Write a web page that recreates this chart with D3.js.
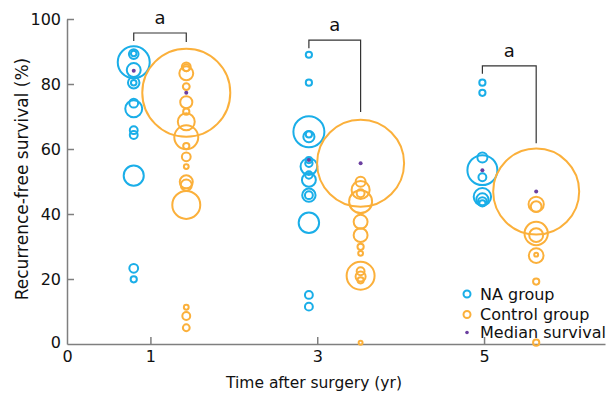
<!DOCTYPE html>
<html>
<head>
<meta charset="utf-8">
<script src="https://cdn.jsdelivr.net/npm/d3@7"></script>
<style>
  body { margin: 0; background: #fff; }
  text { font-family: "DejaVu Sans", Verdana, sans-serif; fill: #111; }
</style>
</head>
<body>
<svg id="chart" width="607" height="396"></svg>
<script>
// x position of each group column (yr)
const years = [1, 3, 5];
const naX = [0.8, 2.9, 4.98];
const ctrlX = [1.43, 3.52, 5.625];

// each study: [recurrence-free survival %, weight]
const na1 = [[89.2, 12], [89.4, 4], [86.7, 132], [84.3, 25], [80.4, 17], [80.4, 4],
  [74.1, 10], [72.4, 37], [65.8, 8], [64.3, 8], [51.8, 52], [23.3, 10], [19.9, 5]];
const ctrl1 = [[85.3, 10], [85.0, 6], [83.3, 25], [79.2, 6], [77.3, 1000], [74.4, 19],
  [71.5, 5], [68.4, 37], [63.6, 74], [60.9, 5], [57.6, 10], [54.6, 3], [49.9, 22],
  [48.9, 16], [42.8, 101], [11.3, 3], [8.6, 8], [5.0, 6]];
const na3 = [[89.0, 5], [80.4, 5], [65.3, 124], [63.8, 16], [64.5, 5], [56.6, 5],
  [54.6, 36], [55.6, 7], [50.5, 25], [52.0, 7], [45.8, 23], [45.8, 8], [37.3, 54],
  [15.1, 8], [11.5, 8]];
const ctrl3 = [[55.6, 977], [49.9, 13], [47.4, 42], [46.4, 8], [43.8, 68], [37.6, 25],
  [33.5, 25], [29.9, 5], [27.9, 3], [21.0, 101], [22.4, 8], [20.8, 13], [19.6, 5], [0.4, 2]];
const na5 = [[80.4, 5], [77.3, 5], [57.4, 13], [53.5, 116], [51.3, 8], [45.3, 39],
  [44.5, 19], [43.8, 10], [43.3, 5]];
const ctrl5 = [[46.9, 955], [43.0, 30], [42.3, 15], [34.0, 70], [33.5, 25], [27.2, 28],
  [27.5, 2], [19.2, 5], [0.4, 5]];

const naMedian = [84.1, 56.6, 53.5];
const ctrlMedian = [77.3, 55.6, 46.9];

// significance brackets (in % units)
const sigTop = [95.7, 93.5, 85.6];
const sigRightEnd = [92.9, 71.4, 61.8];
const sigLabel = ["a", "a", "a"];

const xTicks = [0, 1, 3, 5];
const yTicks = [0, 20, 40, 60, 80, 100];

const blue = "#1aaee8", orange = "#fbb03b", purple = "#6b3fa0", axisGrey = "#7f7f7f";

const svg = d3.select("#chart");

const x = d3.scaleLinear().domain([0, 6.45]).range([67, 605]);
const y = d3.scaleLinear().domain([0, 100]).range([344, 19]);
const r = d3.scaleSqrt().domain([0, 1000]).range([0, 44]);

// axes
const xAxis = svg.append("g")
    .attr("transform", `translate(0,${y(0)})`)
    .call(d3.axisBottom(x).tickValues(xTicks).tickFormat(d3.format("d"))
      .tickSizeInner(-7).tickSizeOuter(0).tickPadding(7));
xAxis.select(".domain").attr("stroke", axisGrey).attr("stroke-width", 1.5);
xAxis.selectAll(".tick line").attr("stroke", axisGrey).attr("stroke-width", 1.5)
    .filter(d => d === 0).remove();
xAxis.selectAll(".tick text").style("font-size", "16px").attr("fill", "#111");

const yAxis = svg.append("g")
    .attr("transform", `translate(${x(0)},0)`)
    .call(d3.axisLeft(y).tickValues(yTicks).tickFormat(d3.format("d"))
      .tickSizeInner(-7).tickSizeOuter(0).tickPadding(6));
yAxis.select(".domain").attr("stroke", axisGrey).attr("stroke-width", 1.5);
yAxis.selectAll(".tick line").attr("stroke", axisGrey).attr("stroke-width", 1.5)
    .filter(d => d === 0).remove();
yAxis.selectAll(".tick text").style("font-size", "16px").attr("fill", "#111");
yAxis.selectAll(".tick text").filter(d => d === 0).attr("x", -6).attr("dy", "0.2em");

svg.append("text")
    .attr("x", 314).attr("y", 388)
    .attr("text-anchor", "middle")
    .style("font-size", "15.5px")
    .text("Time after surgery (yr)");

svg.append("text")
    .attr("transform", "translate(28,179) rotate(-90)")
    .attr("text-anchor", "middle")
    .style("font-size", "17px")
    .text("Recurrence-free survival (%)");

// bubbles
function drawGroup(studies, xpos, color) {
  svg.append("g")
    .selectAll("circle")
    .data(studies)
    .join("circle")
      .attr("cx", x(xpos))
      .attr("cy", d => y(d[0]))
      .attr("r", d => r(d[1]))
      .attr("fill", "none")
      .attr("stroke", color)
      .attr("stroke-width", 2);
}

const naSets = [na1, na3, na5];
const ctrlSets = [ctrl1, ctrl3, ctrl5];
years.forEach(function(yr, i) {
  drawGroup(naSets[i], naX[i], blue);
  drawGroup(ctrlSets[i], ctrlX[i], orange);
});

// medians
svg.append("g").selectAll("circle")
  .data(naMedian.map((m, i) => [naX[i], m]).concat(ctrlMedian.map((m, i) => [ctrlX[i], m])))
  .join("circle")
    .attr("cx", d => x(d[0]))
    .attr("cy", d => y(d[1]))
    .attr("r", 2)
    .attr("fill", purple);

// brackets
const br = svg.append("g");
years.forEach(function(yr, i) {
  const x1 = x(naX[i]), x2 = x(ctrlX[i]), yt = y(sigTop[i]);
  br.append("path")
    .attr("d", `M${x1},${yt + 8}V${yt}H${x2}V${y(sigRightEnd[i])}`)
    .attr("fill", "none")
    .attr("stroke", "#333")
    .attr("stroke-width", 1.2);
  br.append("text")
    .attr("x", (x1 + x2) / 2)
    .attr("y", yt - 9)
    .attr("text-anchor", "middle")
    .style("font-size", "18px")
    .text(sigLabel[i]);
});

// legend
const legendItems = ["NA group", "Control group", "Median survival"];
const legendY = [294, 314.5, 332.5];
const leg = svg.append("g");
legendItems.forEach(function(name, i) {
  if (i < 2) {
    leg.append("circle").attr("cx", 467).attr("cy", legendY[i]).attr("r", 3.5)
      .attr("fill", "none").attr("stroke", i === 0 ? blue : orange).attr("stroke-width", 2);
  } else {
    leg.append("circle").attr("cx", 467).attr("cy", legendY[i]).attr("r", 1.8).attr("fill", purple);
  }
  leg.append("text")
    .attr("x", 480).attr("y", legendY[i] + 5.5)
    .style("font-size", "16px")
    .text(name);
});
</script>
</body>
</html>
